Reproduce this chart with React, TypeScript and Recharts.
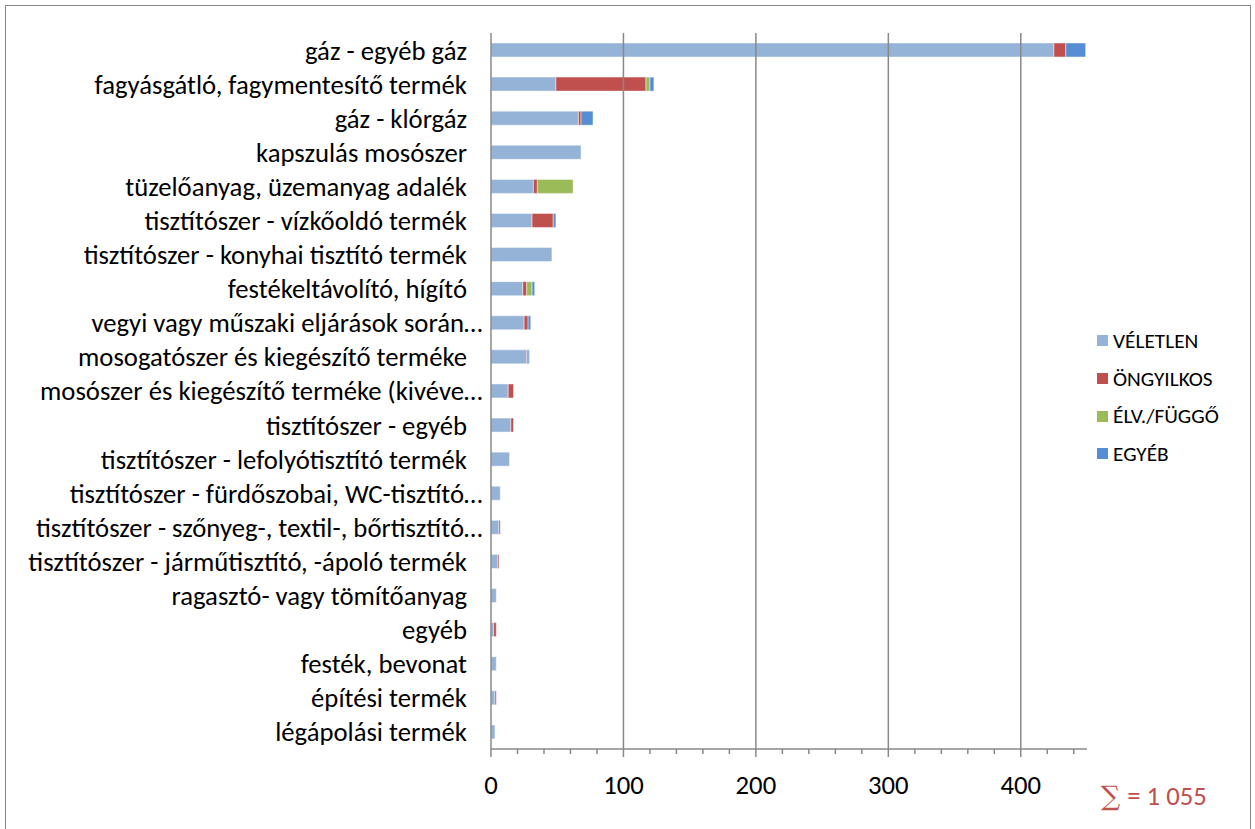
import React from "react";
import { BarChart, Bar, XAxis, YAxis, ReferenceLine, Legend } from "recharts";

const categories = [
  "gáz - egyéb gáz",
  "fagyásgátló, fagymentesítő termék",
  "gáz - klórgáz",
  "kapszulás mosószer",
  "tüzelőanyag, üzemanyag adalék",
  "tisztítószer - vízkőoldó termék",
  "tisztítószer - konyhai tisztító termék",
  "festékeltávolító, hígító",
  "vegyi vagy műszaki eljárások során…",
  "mosogatószer és kiegészítő terméke",
  "mosószer és kiegészítő terméke (kivéve…",
  "tisztítószer - egyéb",
  "tisztítószer - lefolyótisztító termék",
  "tisztítószer - fürdőszobai, WC-tisztító…",
  "tisztítószer - szőnyeg-, textil-, bőrtisztító…",
  "tisztítószer - járműtisztító, -ápoló termék",
  "ragasztó- vagy tömítőanyag",
  "egyéb",
  "festék, bevonat",
  "építési termék",
  "légápolási termék",
];

const veletlen = [425, 49, 66, 68, 32, 31, 46, 24, 25, 27, 13, 15, 14, 7, 6, 5, 4, 2, 4, 3, 3];
const ongyilkos = [9, 68, 2, 0, 3, 16, 0, 3, 3, 1, 4, 2, 0, 0, 1, 1, 0, 2, 0, 1, 0];
const elvFuggo = [0, 3, 0, 0, 27, 0, 0, 4, 0, 0, 0, 0, 0, 0, 0, 0, 0, 0, 0, 0, 0];
const egyeb = [15, 3, 9, 0, 0, 2, 0, 2, 2, 1, 0, 0, 0, 0, 0, 0, 0, 0, 0, 0, 0];

const xTicks = [0, 20, 40, 60, 80, 100, 120, 140, 160, 180, 200, 220, 240, 260, 280, 300, 320, 340, 360, 380, 400, 420, 440];
const gridValues = [100, 200, 300, 400];
const sumSymbol = "∑";
const sumText = "= 1 055";

const series = [
  { key: "veletlen", name: "VÉLETLEN", color: "#95B3D7" },
  { key: "ongyilkos", name: "ÖNGYILKOS", color: "#C0504D" },
  { key: "elv", name: "ÉLV./FÜGGŐ", color: "#9BBB59" },
  { key: "egyeb", name: "EGYÉB", color: "#558ED5" },
];

const data = categories.map((c, i) => ({
  name: c,
  veletlen: veletlen[i],
  ongyilkos: ongyilkos[i],
  elv: elvFuggo[i],
  egyeb: egyeb[i],
}));

const FONT = "Carlito, 'Liberation Sans', Arial, sans-serif";
const AXIS_COLOR = "#888888";
const ELLIPSIS = "…";

const XTick = (props: any) => {
  const { x, y, payload } = props;
  const v = payload.value;
  const major = v % 100 === 0;
  return (
    <g>
      <line x1={x} x2={x} y1={y} y2={y + (major ? 8 : 5)} stroke={AXIS_COLOR} strokeWidth={1.5} />
      {major && (
        <text x={x} y={y + 44.5} textAnchor="middle" fontSize={26.7} fontFamily={FONT} fill="#000">
          {v}
        </text>
      )}
    </g>
  );
};

const YTick = (props: any) => {
  const { x, y, payload } = props;
  const label: string = String(payload.value);
  const truncated = label.endsWith(ELLIPSIS);
  const base = truncated ? label.slice(0, -1) : label;
  const ax = truncated ? x - 3 : x;
  return (
    <g>
      <text x={ax} y={y} dy="0.355em" textAnchor="end" fontSize={26.7} fontFamily={FONT} fill="#000">
        {base}
      </text>
      {truncated && (
        <text x={ax} y={y} dy="0.355em" textAnchor="start" fontSize={26.7} fontFamily={FONT} fill="#000">
          {ELLIPSIS}
        </text>
      )}
    </g>
  );
};

const LegendContent = () => (
  <div style={{ fontFamily: FONT, fontSize: 21.3, color: "#000" }}>
    {series.map((s) => (
      <div key={s.key} style={{ display: "flex", alignItems: "center", height: 37.7 }}>
        <span style={{ display: "inline-block", width: 11, height: 11, background: s.color, marginRight: 5 }} />
        <span>{s.name}</span>
      </div>
    ))}
  </div>
);

export default function App() {
  return (
    <div style={{ position: "absolute", left: 0, top: 0, width: 1255, height: 829, background: "#fff", overflow: "hidden" }}>
      <div
        style={{
          position: "absolute",
          left: 5,
          top: 5,
          width: 1246,
          height: 840,
          border: "1.5px solid #888",
          boxSizing: "border-box",
        }}
      />
      <div style={{ position: "absolute", left: 0, top: 0 }}>
        <BarChart
          width={1255}
          height={829}
          data={data}
          layout="vertical"
          margin={{ top: 33, right: 168, bottom: 50, left: 0 }}
          barSize={14}
        >
          {gridValues.map((g) => (
            <ReferenceLine key={g} x={g} stroke={AXIS_COLOR} strokeWidth={1.5} />
          ))}
          <XAxis
            type="number"
            domain={[0, 450]}
            ticks={xTicks}
            interval={0}
            height={30}
            tickLine={false}
            tickSize={0}
            tickMargin={0}
            axisLine={{ stroke: AXIS_COLOR, strokeWidth: 1.5 }}
            tick={<XTick />}
            allowDataOverflow
          />
          <YAxis
            type="category"
            dataKey="name"
            width={491}
            interval={0}
            tickLine={false}
            tickSize={0}
            tickMargin={24}
            axisLine={{ stroke: AXIS_COLOR, strokeWidth: 1.5 }}
            tick={<YTick />}
          />
          {series.map((s) => (
            <Bar
              key={s.key}
              dataKey={s.key}
              name={s.name}
              stackId="a"
              fill={s.color}
              stroke="#ffffff"
              strokeOpacity={0.45}
              strokeWidth={1}
              isAnimationActive={false}
            />
          ))}
          <Legend
            layout="vertical"
            align="center"
            verticalAlign="middle"
            content={<LegendContent />}
            wrapperStyle={{ left: 1097, top: 322, width: 155 }}
          />
        </BarChart>
      </div>
      <div
        style={{
          position: "absolute",
          left: 1101,
          top: 778,
          fontFamily: FONT,
          fontSize: 26.7,
          color: "#C0504D",
          whiteSpace: "nowrap",
          lineHeight: "36px",
        }}
      >
        <span style={{ fontFamily: "'DejaVu Serif', serif", fontSize: 27, fontWeight: 300, marginRight: 7 }}>{sumSymbol}</span>
        <span>{sumText}</span>
      </div>
    </div>
  );
}
